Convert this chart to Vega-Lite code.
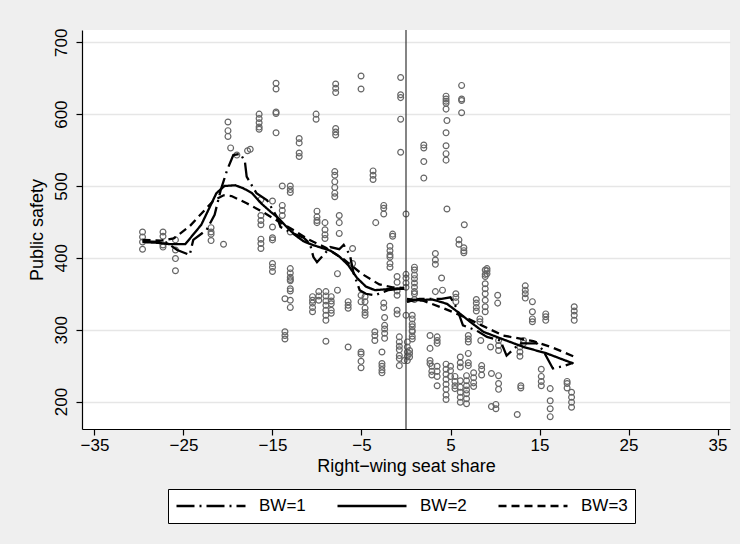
{
  "$schema": "https://vega.github.io/schema/vega-lite/v6.json",
  "width": 648,
  "height": 399,
  "autosize": {"type": "none"},
  "padding": {"left": 82, "top": 30, "right": 10, "bottom": 115},
  "background": "#EFEFEF",
  "config": {
    "view": {"fill": "white", "stroke": null},
    "font": "Liberation Sans",
    "axis": {
      "labelFont": "Liberation Sans", "labelFontSize": 17, "labelColor": "black",
      "titleFont": "Liberation Sans", "titleFontSize": 18, "titleColor": "black", "titleFontWeight": "normal",
      "domainColor": "black", "domainWidth": 1.2, "tickColor": "black", "tickWidth": 1.2, "tickSize": 6
    },
    "legend": {
      "orient": "none", "legendX": 86, "legendY": 459, "direction": "horizontal",
      "strokeColor": "black", "fillColor": "white", "padding": 7,
      "symbolType": "stroke", "symbolSize": 4761, "symbolStrokeWidth": 2.4, "symbolStrokeColor": "black",
      "clipHeight": 20,
      "labelFont": "Liberation Sans", "labelFontSize": 17, "labelColor": "black", "labelOffset": 12,
      "columnPadding": 30, "title": null
    }
  },
  "datasets": {
    "pts": [
      {"x":-29.6,"y":436},{"x":-29.6,"y":429},{"x":-29.6,"y":422},{"x":-29.6,"y":412},
      {"x":-27.3,"y":436},{"x":-27.3,"y":430},{"x":-27.3,"y":418},{"x":-27.3,"y":415},
      {"x":-25.9,"y":425},{"x":-25.9,"y":411},{"x":-25.9,"y":399},{"x":-25.9,"y":382},
      {"x":-21.9,"y":442},{"x":-21.9,"y":436},{"x":-21.9,"y":433},{"x":-21.9,"y":424},
      {"x":-20.5,"y":419},
      {"x":-20.0,"y":589},{"x":-20.0,"y":577},{"x":-20.0,"y":569},{"x":-19.7,"y":553},
      {"x":-19.0,"y":543},{"x":-17.8,"y":549},{"x":-17.5,"y":551},
      {"x":-16.5,"y":600},{"x":-16.5,"y":594},{"x":-16.5,"y":588},{"x":-16.5,"y":582},{"x":-16.5,"y":579},
      {"x":-16.3,"y":481},{"x":-16.3,"y":459},{"x":-16.3,"y":452},{"x":-16.3,"y":446},{"x":-16.3,"y":426},{"x":-16.3,"y":420},{"x":-16.3,"y":413},
      {"x":-15.0,"y":479},{"x":-15.0,"y":443},{"x":-15.0,"y":428},{"x":-15.0,"y":425},{"x":-15.0,"y":392},{"x":-15.0,"y":387},{"x":-15.0,"y":381},
      {"x":-14.6,"y":643},{"x":-14.6,"y":635},{"x":-14.6,"y":603},{"x":-14.6,"y":601},{"x":-14.6,"y":574},
      {"x":-13.9,"y":500},{"x":-13.9,"y":473},{"x":-13.9,"y":466},{"x":-13.9,"y":459},
      {"x":-13.0,"y":500},{"x":-13.0,"y":495},{"x":-13.0,"y":491},{"x":-13.0,"y":436},{"x":-13.0,"y":385},{"x":-13.0,"y":379},{"x":-13.0,"y":373},{"x":-13.0,"y":370},{"x":-13.0,"y":368},{"x":-13.0,"y":357},{"x":-13.0,"y":354},{"x":-13.0,"y":341},{"x":-13.0,"y":331},
      {"x":-13.6,"y":343},{"x":-13.6,"y":297},{"x":-13.6,"y":292},{"x":-13.6,"y":287},
      {"x":-12.0,"y":566},{"x":-12.0,"y":560},{"x":-12.0,"y":546},{"x":-12.0,"y":541},
      {"x":-10.1,"y":600},{"x":-10.1,"y":593},
      {"x":-10.0,"y":465},{"x":-10.0,"y":457},{"x":-10.0,"y":452},{"x":-10.0,"y":449},
      {"x":-9.1,"y":449},{"x":-9.1,"y":439},{"x":-9.1,"y":432},{"x":-9.1,"y":427},
      {"x":-10.5,"y":346},{"x":-10.5,"y":341},{"x":-10.5,"y":337},{"x":-10.5,"y":331},{"x":-10.5,"y":325},
      {"x":-9.8,"y":353},{"x":-9.8,"y":347},{"x":-9.8,"y":341},
      {"x":-9.0,"y":353},{"x":-9.0,"y":347},{"x":-9.0,"y":340},{"x":-9.0,"y":334},{"x":-9.0,"y":327},{"x":-9.0,"y":320},{"x":-9.0,"y":313},{"x":-9.0,"y":284},
      {"x":-8.4,"y":346},{"x":-8.4,"y":340},{"x":-8.4,"y":336},{"x":-8.4,"y":327},{"x":-8.4,"y":323},
      {"x":-7.9,"y":642},{"x":-7.9,"y":636},{"x":-7.9,"y":630},{"x":-7.9,"y":580},{"x":-7.9,"y":575},{"x":-7.9,"y":571},
      {"x":-8.0,"y":520},{"x":-8.0,"y":515},{"x":-8.0,"y":506},{"x":-8.0,"y":498},{"x":-8.0,"y":490},{"x":-8.0,"y":485},
      {"x":-7.5,"y":459},{"x":-7.5,"y":449},{"x":-7.5,"y":434},
      {"x":-7.7,"y":378},{"x":-7.7,"y":355},
      {"x":-6.5,"y":339},{"x":-6.5,"y":334},{"x":-6.5,"y":330},{"x":-6.5,"y":276},
      {"x":-6.0,"y":413},{"x":-6.0,"y":392},
      {"x":-5.05,"y":653},{"x":-5.05,"y":635},{"x":-5.05,"y":348},{"x":-5.05,"y":339},{"x":-5.05,"y":269},{"x":-5.05,"y":266},{"x":-5.05,"y":256},{"x":-5.05,"y":247},
      {"x":-4.6,"y":346},{"x":-4.6,"y":339},{"x":-4.6,"y":330},{"x":-4.6,"y":324},{"x":-4.6,"y":320},
      {"x":-3.7,"y":521},{"x":-3.7,"y":515},{"x":-3.7,"y":509},
      {"x":-3.5,"y":297},{"x":-3.5,"y":292},{"x":-3.5,"y":285},
      {"x":-3.4,"y":449},
      {"x":-2.5,"y":473},{"x":-2.5,"y":469},{"x":-2.5,"y":461},{"x":-2.5,"y":337},{"x":-2.5,"y":331},
      {"x":-2.7,"y":269},{"x":-2.7,"y":253},{"x":-2.7,"y":249},{"x":-2.7,"y":244},{"x":-2.7,"y":240},
      {"x":-2.4,"y":317},{"x":-2.4,"y":306},{"x":-2.4,"y":301},{"x":-2.4,"y":295},{"x":-2.4,"y":288},
      {"x":-1.8,"y":416},{"x":-1.8,"y":410},{"x":-1.8,"y":404},{"x":-1.8,"y":401},{"x":-1.8,"y":392},{"x":-1.8,"y":387},
      {"x":-1.5,"y":433},{"x":-1.5,"y":430},
      {"x":-1.0,"y":374},{"x":-1.0,"y":366},{"x":-1.0,"y":354},{"x":-1.0,"y":348},{"x":-1.0,"y":327},{"x":-1.0,"y":322},
      {"x":-0.75,"y":290},{"x":-0.75,"y":283},{"x":-0.75,"y":277},{"x":-0.75,"y":272},{"x":-0.75,"y":264},{"x":-0.75,"y":260},{"x":-0.75,"y":250},
      {"x":-0.6,"y":651},{"x":-0.6,"y":627},{"x":-0.6,"y":623},{"x":-0.6,"y":593},{"x":-0.6,"y":547},
      {"x":-0.2,"y":257},
      {"x":0.0,"y":461},{"x":0.0,"y":377},{"x":0.0,"y":372},{"x":0.0,"y":365},{"x":0.0,"y":359},{"x":0.0,"y":320},
      {"x":0.15,"y":283},{"x":0.15,"y":276},{"x":0.15,"y":269},{"x":0.15,"y":263},{"x":0.15,"y":257},
      {"x":0.4,"y":271},{"x":0.4,"y":267},{"x":0.4,"y":262},
      {"x":0.95,"y":387},{"x":0.95,"y":383},{"x":0.95,"y":376},{"x":0.95,"y":371},{"x":0.95,"y":365},{"x":0.95,"y":359},{"x":0.95,"y":353},{"x":0.95,"y":350},{"x":0.95,"y":342},
      {"x":0.7,"y":320},{"x":0.7,"y":315},{"x":0.7,"y":308},{"x":0.7,"y":304},{"x":0.7,"y":299},{"x":0.7,"y":297},{"x":0.7,"y":291},{"x":0.7,"y":287},
      {"x":2.0,"y":557},{"x":2.0,"y":553},{"x":2.0,"y":534},{"x":2.0,"y":511},
      {"x":3.3,"y":406},{"x":3.3,"y":397},{"x":3.3,"y":391},{"x":3.3,"y":353},
      {"x":4.0,"y":372},{"x":4.1,"y":355},
      {"x":2.7,"y":292},{"x":2.7,"y":274},{"x":2.7,"y":257},{"x":2.7,"y":253},
      {"x":3.5,"y":290},{"x":3.5,"y":285},{"x":3.5,"y":281},{"x":3.5,"y":249},{"x":3.5,"y":242},{"x":3.5,"y":235},{"x":3.5,"y":222},
      {"x":2.9,"y":249},{"x":2.9,"y":242},{"x":2.9,"y":237},
      {"x":4.5,"y":625},{"x":4.5,"y":621},{"x":4.5,"y":618},{"x":4.5,"y":615},{"x":4.5,"y":607},{"x":4.6,"y":591},{"x":4.5,"y":574},{"x":4.5,"y":556},{"x":4.5,"y":545},{"x":4.5,"y":536},{"x":4.6,"y":468},
      {"x":4.5,"y":252},{"x":4.5,"y":245},{"x":4.5,"y":238},{"x":4.5,"y":231},{"x":4.5,"y":224},{"x":4.5,"y":217},{"x":4.5,"y":209},{"x":4.5,"y":203},
      {"x":5.0,"y":249},{"x":5.0,"y":243},{"x":5.0,"y":235},
      {"x":5.5,"y":235},{"x":5.5,"y":228},{"x":5.5,"y":222},{"x":5.5,"y":218},
      {"x":5.6,"y":350},{"x":5.6,"y":345},{"x":5.6,"y":339},
      {"x":6.25,"y":640},{"x":6.25,"y":621},{"x":6.25,"y":619},{"x":6.25,"y":602},
      {"x":6.55,"y":446},
      {"x":5.95,"y":425},{"x":5.95,"y":419},
      {"x":6.5,"y":414},{"x":6.5,"y":410},{"x":6.5,"y":407},
      {"x":6.1,"y":262},{"x":6.1,"y":254},{"x":6.1,"y":248},{"x":6.1,"y":229},{"x":6.1,"y":220},{"x":6.1,"y":213},{"x":6.1,"y":206},{"x":6.1,"y":199},
      {"x":6.8,"y":236},{"x":6.8,"y":229},{"x":6.8,"y":222},{"x":6.8,"y":216},{"x":6.8,"y":211},{"x":6.8,"y":204},{"x":6.8,"y":197},
      {"x":7.0,"y":292},{"x":7.0,"y":287},{"x":7.0,"y":283},{"x":7.0,"y":267},{"x":7.0,"y":254},{"x":7.0,"y":250},
      {"x":7.6,"y":240},{"x":7.6,"y":233},{"x":7.6,"y":226},{"x":7.6,"y":221},
      {"x":7.9,"y":342},{"x":7.9,"y":337},{"x":7.9,"y":331},{"x":7.9,"y":326},
      {"x":8.5,"y":250},{"x":8.5,"y":245},{"x":8.5,"y":237},
      {"x":8.4,"y":285},
      {"x":8.9,"y":383},{"x":8.9,"y":377},{"x":8.9,"y":374},{"x":8.9,"y":364},{"x":8.9,"y":357},{"x":8.9,"y":350},{"x":8.9,"y":341},{"x":8.9,"y":332},{"x":8.9,"y":325},
      {"x":9.1,"y":385},{"x":9.1,"y":382},{"x":9.1,"y":378},
      {"x":8.3,"y":315},{"x":8.3,"y":311},
      {"x":10.3,"y":348},{"x":10.3,"y":337},
      {"x":9.5,"y":276},
      {"x":10.4,"y":285},{"x":10.4,"y":278},{"x":10.4,"y":271},{"x":10.4,"y":236},{"x":10.4,"y":225},{"x":10.4,"y":217},
      {"x":9.6,"y":239},{"x":9.6,"y":193},
      {"x":10.1,"y":196},{"x":10.1,"y":190},
      {"x":12.5,"y":182},
      {"x":12.9,"y":222},{"x":12.9,"y":219},
      {"x":12.8,"y":276},{"x":12.8,"y":269},{"x":12.8,"y":263},
      {"x":13.2,"y":285},{"x":13.2,"y":281},
      {"x":13.4,"y":361},{"x":13.4,"y":355},{"x":13.4,"y":350},{"x":13.4,"y":344},
      {"x":14.2,"y":339},{"x":14.2,"y":325},{"x":14.2,"y":315},{"x":14.2,"y":311},
      {"x":15.2,"y":245},{"x":15.2,"y":235},{"x":15.2,"y":228},{"x":15.2,"y":222},
      {"x":15.7,"y":322},{"x":15.7,"y":318},{"x":15.7,"y":313},
      {"x":16.2,"y":218},{"x":16.2,"y":201},{"x":16.2,"y":190},{"x":16.2,"y":179},
      {"x":18.1,"y":228},{"x":18.1,"y":225},{"x":18.1,"y":219},
      {"x":18.6,"y":213},{"x":18.6,"y":206},{"x":18.6,"y":199},{"x":18.6,"y":192},
      {"x":18.9,"y":332},{"x":18.9,"y":326},{"x":18.9,"y":320},{"x":18.9,"y":313}
    ],
    "lines": [
      {"bw":"BW=1","side":"L","x":-29.6,"y":423},{"bw":"BW=1","side":"L","x":-27,"y":422},{"bw":"BW=1","side":"L","x":-25.7,"y":411},{"bw":"BW=1","side":"L","x":-24.3,"y":404},{"bw":"BW=1","side":"L","x":-23.9,"y":425},{"bw":"BW=1","side":"L","x":-22.4,"y":439},{"bw":"BW=1","side":"L","x":-21.5,"y":460},{"bw":"BW=1","side":"L","x":-20.8,"y":495},{"bw":"BW=1","side":"L","x":-20.1,"y":522},{"bw":"BW=1","side":"L","x":-19.4,"y":543},{"bw":"BW=1","side":"L","x":-18.6,"y":545},{"bw":"BW=1","side":"L","x":-18.1,"y":534},{"bw":"BW=1","side":"L","x":-17.9,"y":513},{"bw":"BW=1","side":"L","x":-16.8,"y":490},{"bw":"BW=1","side":"L","x":-15.6,"y":480},{"bw":"BW=1","side":"L","x":-14.5,"y":457},{"bw":"BW=1","side":"L","x":-14.1,"y":443},{"bw":"BW=1","side":"L","x":-12.7,"y":434},{"bw":"BW=1","side":"L","x":-11.5,"y":428},{"bw":"BW=1","side":"L","x":-10.8,"y":420},{"bw":"BW=1","side":"L","x":-10.4,"y":401},{"bw":"BW=1","side":"L","x":-10,"y":394},{"bw":"BW=1","side":"L","x":-9.2,"y":405},{"bw":"BW=1","side":"L","x":-8.5,"y":415},{"bw":"BW=1","side":"L","x":-7.5,"y":412},{"bw":"BW=1","side":"L","x":-7,"y":418},{"bw":"BW=1","side":"L","x":-6.3,"y":404},{"bw":"BW=1","side":"L","x":-5.9,"y":379},{"bw":"BW=1","side":"L","x":-5.2,"y":355},{"bw":"BW=1","side":"L","x":-4.5,"y":350},{"bw":"BW=1","side":"L","x":-3.5,"y":348},{"bw":"BW=1","side":"L","x":-2,"y":355},{"bw":"BW=1","side":"L","x":-0.7,"y":357},{"bw":"BW=1","side":"L","x":-0.2,"y":358},
      {"bw":"BW=1","side":"R","x":0.1,"y":339},{"bw":"BW=1","side":"R","x":1.5,"y":343},{"bw":"BW=1","side":"R","x":4,"y":343},{"bw":"BW=1","side":"R","x":5,"y":345},{"bw":"BW=1","side":"R","x":5.7,"y":330},{"bw":"BW=1","side":"R","x":6.4,"y":306},{"bw":"BW=1","side":"R","x":7.9,"y":299},{"bw":"BW=1","side":"R","x":9.1,"y":290},{"bw":"BW=1","side":"R","x":10.6,"y":285},{"bw":"BW=1","side":"R","x":11.3,"y":264},{"bw":"BW=1","side":"R","x":12.8,"y":281},{"bw":"BW=1","side":"R","x":14.7,"y":281},{"bw":"BW=1","side":"R","x":15.4,"y":271},{"bw":"BW=1","side":"R","x":16.5,"y":246},{"bw":"BW=1","side":"R","x":17.6,"y":249},{"bw":"BW=1","side":"R","x":18.8,"y":254},
      {"bw":"BW=2","side":"L","x":-29.6,"y":422},{"bw":"BW=2","side":"L","x":-28,"y":421},{"bw":"BW=2","side":"L","x":-26.5,"y":419},{"bw":"BW=2","side":"L","x":-24.8,"y":419},{"bw":"BW=2","side":"L","x":-23,"y":446},{"bw":"BW=2","side":"L","x":-21.3,"y":490},{"bw":"BW=2","side":"L","x":-20.4,"y":500},{"bw":"BW=2","side":"L","x":-19.2,"y":501},{"bw":"BW=2","side":"L","x":-18.3,"y":497},{"bw":"BW=2","side":"L","x":-17.3,"y":490},{"bw":"BW=2","side":"L","x":-16.2,"y":475},{"bw":"BW=2","side":"L","x":-15.2,"y":464},{"bw":"BW=2","side":"L","x":-14.4,"y":456},{"bw":"BW=2","side":"L","x":-13.4,"y":443},{"bw":"BW=2","side":"L","x":-12.5,"y":432},{"bw":"BW=2","side":"L","x":-11.5,"y":423},{"bw":"BW=2","side":"L","x":-10.5,"y":418},{"bw":"BW=2","side":"L","x":-9.5,"y":414},{"bw":"BW=2","side":"L","x":-8.5,"y":410},{"bw":"BW=2","side":"L","x":-7.5,"y":402},{"bw":"BW=2","side":"L","x":-6.5,"y":390},{"bw":"BW=2","side":"L","x":-5.5,"y":372},{"bw":"BW=2","side":"L","x":-4.5,"y":360},{"bw":"BW=2","side":"L","x":-3.5,"y":355},{"bw":"BW=2","side":"L","x":-2.5,"y":356},{"bw":"BW=2","side":"L","x":-1.5,"y":357},{"bw":"BW=2","side":"L","x":-0.2,"y":357},
      {"bw":"BW=2","side":"R","x":0.1,"y":339},{"bw":"BW=2","side":"R","x":1,"y":341},{"bw":"BW=2","side":"R","x":3,"y":342},{"bw":"BW=2","side":"R","x":4.6,"y":336},{"bw":"BW=2","side":"R","x":6.1,"y":322},{"bw":"BW=2","side":"R","x":7.2,"y":311},{"bw":"BW=2","side":"R","x":8.7,"y":297},{"bw":"BW=2","side":"R","x":10.6,"y":288},{"bw":"BW=2","side":"R","x":13.2,"y":276},{"bw":"BW=2","side":"R","x":15.8,"y":267},{"bw":"BW=2","side":"R","x":18.8,"y":253},
      {"bw":"BW=3","side":"L","x":-29.6,"y":425},{"bw":"BW=3","side":"L","x":-27.5,"y":424},{"bw":"BW=3","side":"L","x":-26.1,"y":427},{"bw":"BW=3","side":"L","x":-24.3,"y":444},{"bw":"BW=3","side":"L","x":-21.6,"y":480},{"bw":"BW=3","side":"L","x":-20.5,"y":487},{"bw":"BW=3","side":"L","x":-19.6,"y":486},{"bw":"BW=3","side":"L","x":-17.9,"y":476},{"bw":"BW=3","side":"L","x":-16.4,"y":466},{"bw":"BW=3","side":"L","x":-14.5,"y":452},{"bw":"BW=3","side":"L","x":-12.7,"y":439},{"bw":"BW=3","side":"L","x":-11,"y":426},{"bw":"BW=3","side":"L","x":-9,"y":414},{"bw":"BW=3","side":"L","x":-7,"y":398},{"bw":"BW=3","side":"L","x":-5,"y":378},{"bw":"BW=3","side":"L","x":-3,"y":363},{"bw":"BW=3","side":"L","x":-1.5,"y":359},{"bw":"BW=3","side":"L","x":-0.2,"y":358},
      {"bw":"BW=3","side":"R","x":0.1,"y":343},{"bw":"BW=3","side":"R","x":2,"y":340},{"bw":"BW=3","side":"R","x":4.2,"y":330},{"bw":"BW=3","side":"R","x":6.5,"y":318},{"bw":"BW=3","side":"R","x":8.5,"y":306},{"bw":"BW=3","side":"R","x":10.9,"y":292},{"bw":"BW=3","side":"R","x":14.3,"y":284},{"bw":"BW=3","side":"R","x":16.5,"y":275},{"bw":"BW=3","side":"R","x":18.8,"y":263}
    ],
    "vline": [{"x": 0}]
  },
  "layer": [
    {
      "data": {"name": "pts"},
      "mark": {"type": "point", "shape": "circle", "filled": false, "stroke": "#666666", "strokeWidth": 1.2, "size": 34, "opacity": 1},
      "encoding": {
        "x": {"field": "x", "type": "quantitative", "scale": {"domain": [-36.4, 36.4], "nice": false, "zero": false},
              "axis": {"values": [-35, -25, -15, -5, 5, 15, 25, 35], "grid": false, "title": "Right−wing seat share", "labelPadding": 2, "titlePadding": 4}},
        "y": {"field": "y", "type": "quantitative", "scale": {"domain": [161.8, 717.1], "nice": false, "zero": false},
              "axis": {"values": [200, 300, 400, 500, 600, 700], "grid": true, "gridColor": "#E6E6E6", "gridWidth": 1.5, "labelAngle": -90, "labelPadding": 6, "title": "Public safety", "titlePadding": 6}}
      }
    },
    {
      "data": {"name": "vline"},
      "mark": {"type": "rule", "color": "#333333", "strokeWidth": 1.2},
      "encoding": {"x": {"field": "x", "type": "quantitative"}}
    },
    {
      "data": {"name": "lines"},
      "mark": {"type": "line", "color": "black", "strokeWidth": 2.3},
      "encoding": {
        "x": {"field": "x", "type": "quantitative"},
        "y": {"field": "y", "type": "quantitative"},
        "detail": {"field": "side", "type": "nominal"},
        "strokeDash": {"field": "bw", "type": "nominal",
          "scale": {"domain": ["BW=1", "BW=2", "BW=3"], "range": [[18, 5, 2, 5], [1, 0], [8, 5]]},
          "legend": {"title": null}}
      }
    }
  ]
}
